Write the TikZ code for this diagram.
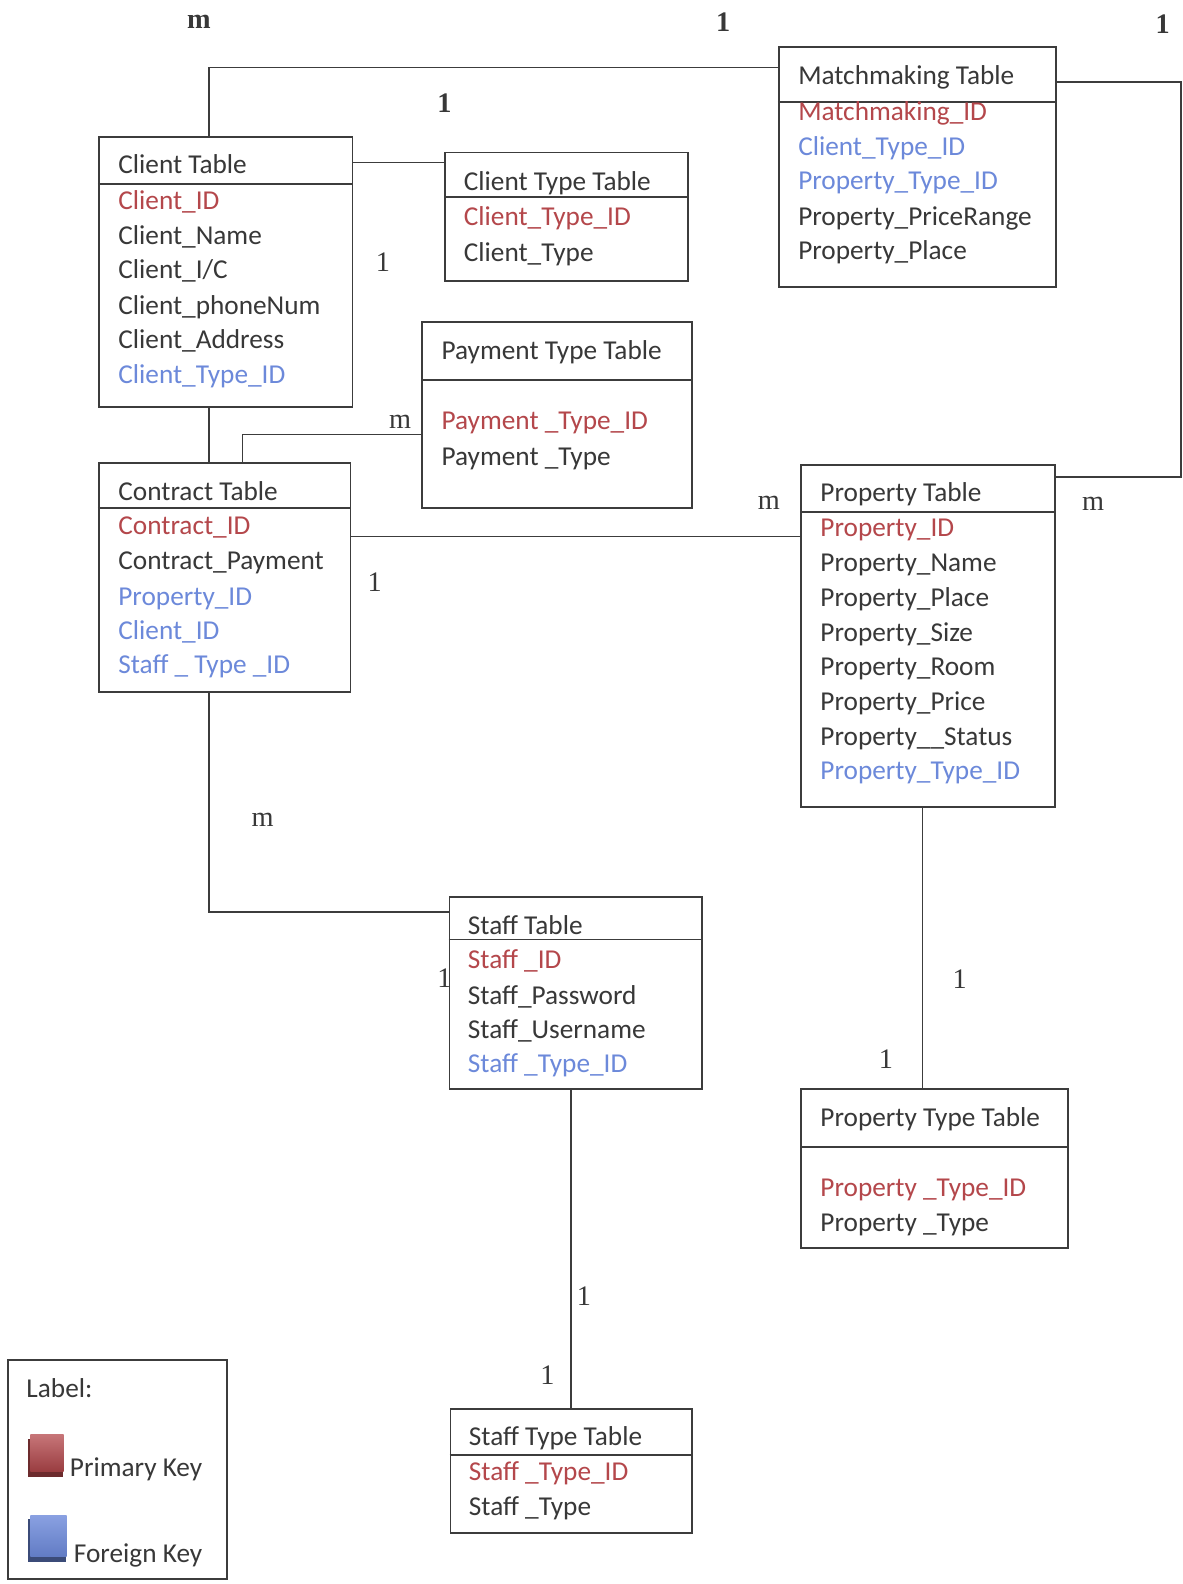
\documentclass[tikz,border=0pt]{standalone}
\usepackage{fontspec}
\setmainfont{Carlito}
\newfontfamily\cardfont{Liberation Serif}
\usetikzlibrary{calc}
\definecolor{ink}{HTML}{383838}
\definecolor{pkc}{HTML}{B4474B}
\definecolor{fkc}{HTML}{6C89DA}
\definecolor{rule}{HTML}{3C3C3C}

% one text line inside a table: name, x, baseline y, colour, text
\newcommand\fld[5]{\node[fldtext,text=#4] (#1) at (#2,#3) {#5};}
% a table frame: name, left, top, right, bottom, header-rule y
\newcommand\tablebox[6]{%
  \node[tbl,minimum width=#4-#2,minimum height=#5-#3,anchor=north west] (#1) at (#2,#3) {};
  \draw[rule line] (#1.west |- 0,#6) -- (#1.east |- 0,#6);}

\begin{document}
\begin{tikzpicture}[x=1pt,y=-1pt,
  tbl/.style={draw=rule,line width=1.9pt,inner sep=0pt,fill=none},
  rule line/.style={draw=rule,line width=1.9pt},
  link/.style={draw=rule,line width=1.6pt},
  fldtext/.style={anchor=base west,inner sep=0pt,font=\fontsize{27}{32}\selectfont},
  card/.style={inner sep=0pt,text=ink,font=\cardfont\fontsize{28}{30}\selectfont},
  bcard/.style={card,font=\cardfont\bfseries\fontsize{28}{30}\selectfont}]

\fill[white] (0,0) rectangle (1171,1568);
\useasboundingbox (0,0) rectangle (1171,1568);

% ---------------- tables ----------------
\tablebox{client}{97}{135}{348}{402}{182}
\fld{clT}{117}{172}{ink}{Client Table}
\fld{cl1}{117}{207}{pkc}{Client\_ID}
\fld{cl2}{117}{242}{ink}{Client\_Name}
\fld{cl3}{117}{276}{ink}{Client\_I/C}
\fld{cl4}{117}{311}{ink}{Client\_phoneNum}
\fld{cl5}{117}{345}{ink}{Client\_Address}
\fld{cl6}{117}{380}{fkc}{Client\_Type\_ID}

\tablebox{ctype}{440}{150}{680}{277}{195}
\fld{ctT}{459}{189}{ink}{Client Type Table}
\fld{ct1}{459}{223}{pkc}{Client\_Type\_ID}
\fld{ct2}{459}{259}{ink}{Client\_Type}

\tablebox{match}{770}{46}{1044}{283}{101}
\fld{mtT}{790}{84}{ink}{Matchmaking Table}
\fld{mt1}{790}{119}{pkc}{Matchmaking\_ID}
\fld{mt2}{790}{154}{fkc}{Client\_Type\_ID}
\fld{mt3}{790}{188}{fkc}{Property\_Type\_ID}
\fld{mt4}{790}{223}{ink}{Property\_PriceRange}
\fld{mt5}{790}{257}{ink}{Property\_Place}

\tablebox{pay}{417}{318}{684}{502}{376}
\fld{pyT}{437}{356}{ink}{Payment Type Table}
\fld{py1}{437}{425}{pkc}{Payment \_Type\_ID}
\fld{py2}{437}{461}{ink}{Payment \_Type}

\tablebox{contract}{97}{457}{346}{684}{503}
\fld{coT}{117}{495}{ink}{Contract Table}
\fld{co1}{117}{529}{pkc}{Contract\_ID}
\fld{co2}{117}{564}{ink}{Contract\_Payment}
\fld{co3}{117}{599}{fkc}{Property\_ID}
\fld{co4}{117}{633}{fkc}{Client\_ID}
\fld{co5}{117}{667}{fkc}{Staff \_ Type \_ID}

\tablebox{prop}{792}{459}{1043}{798}{507}
\fld{prT}{812}{496}{ink}{Property Table}
\fld{pr1}{812}{531}{pkc}{Property\_ID}
\fld{pr2}{812}{566}{ink}{Property\_Name}
\fld{pr3}{812}{600}{ink}{Property\_Place}
\fld{pr4}{812}{635}{ink}{Property\_Size}
\fld{pr5}{812}{669}{ink}{Property\_Room}
\fld{pr6}{812}{703}{ink}{Property\_Price}
\fld{pr7}{812}{738}{ink}{Property\_\_Status}
\fld{pr8}{812}{772}{fkc}{Property\_Type\_ID}

\tablebox{staff}{444}{887}{694}{1077}{930}
\fld{stT}{463}{925}{ink}{Staff Table}
\fld{st1}{463}{959}{pkc}{Staff \_ID}
\fld{st2}{463}{994}{ink}{Staff\_Password}
\fld{st3}{463}{1028}{ink}{Staff\_Username}
\fld{st4}{463}{1062}{fkc}{Staff \_Type\_ID}

\tablebox{ptype}{792}{1077}{1056}{1234}{1135}
\fld{ptT}{812}{1115}{ink}{Property Type Table}
\fld{pt1}{812}{1184}{pkc}{Property \_Type\_ID}
\fld{pt2}{812}{1219}{ink}{Property \_Type}

\tablebox{stype}{445}{1394}{684}{1517}{1440}
\fld{syT}{464}{1431}{ink}{Staff Type Table}
\fld{sy1}{464}{1466}{pkc}{Staff \_Type\_ID}
\fld{sy2}{464}{1500}{ink}{Staff \_Type}

% ---------------- connectors ----------------
\coordinate (clTop) at ($(client.north west)+(110,0)$);
\draw[link] (clTop) |- (match.west |- 0,67);
\draw[link] (client.east |- 0,161) -- (ctype.west |- 0,161);
\coordinate (mtR) at (match.east |- 0,81);
\draw[link] (mtR) -- (1169,81) |- (prop.east |- 0,472);
\coordinate (clBot) at ($(client.south west)+(110,0)$);
\draw[link] (clBot) -- (contract.north -| clBot);
\coordinate (coTop) at ($(contract.north west)+(143,0)$);
\draw[link] (coTop) |- (pay.west |- 0,430);
\draw[link] (contract.east |- 0,531) -- (prop.west |- 0,531);
\coordinate (coBot) at ($(contract.south west)+(110,0)$);
\draw[link] (coBot) |- (staff.west |- 0,903);
\coordinate (prBot) at ($(prop.south west)+(121,0)$);
\draw[link] (prBot) -- (ptype.north -| prBot);
\coordinate (stBot) at ($(staff.south west)+(121,0)$);
\draw[link] (stBot) -- (stype.north -| stBot);

% ---------------- cardinalities ----------------
\node[bcard] (k1) at (197,22) {m};
\node[bcard] (k2) at (716,22) {1};
\node[bcard] (k3) at (1151,24) {1};
\node[bcard] (k4) at (440,102) {1};
\node[card] (k5) at (379,260) {1};
\node[card] (k6) at (396,418) {m};
\node[card] (k7) at (371,576) {1};
\node[card] (k8) at (761,498) {m};
\node[card] (k9) at (1082,499) {m};
\node[card] (k10) at (260,812) {m};
\node[card] (k11) at (440,968) {1};
\node[card] (k12) at (950,969) {1};
\node[card] (k13) at (877,1048) {1};
\node[card] (k14) at (578,1283) {1};
\node[card] (k15) at (542,1361) {1};

% ---------------- legend ----------------
\node[tbl,minimum width=217,minimum height=217,anchor=north west] (legend) at (7,1345) {};
\fld{lg0}{26}{1383}{ink}{Label:}
\fill[pkc!60!black] (28,1424) rectangle (62,1462);
\shade[top color=pkc!75!white,bottom color=pkc!85!black] (30,1420) rectangle (63,1457);
\fld{lg1}{69}{1462}{ink}{Primary Key}
\fill[fkc!55!black] (28,1504) rectangle (65,1546);
\shade[top color=fkc!80!white,bottom color=fkc!90!black] (30,1500) rectangle (66,1541);
\fld{lg2}{73}{1547}{ink}{Foreign Key}
\end{tikzpicture}
\end{document}
